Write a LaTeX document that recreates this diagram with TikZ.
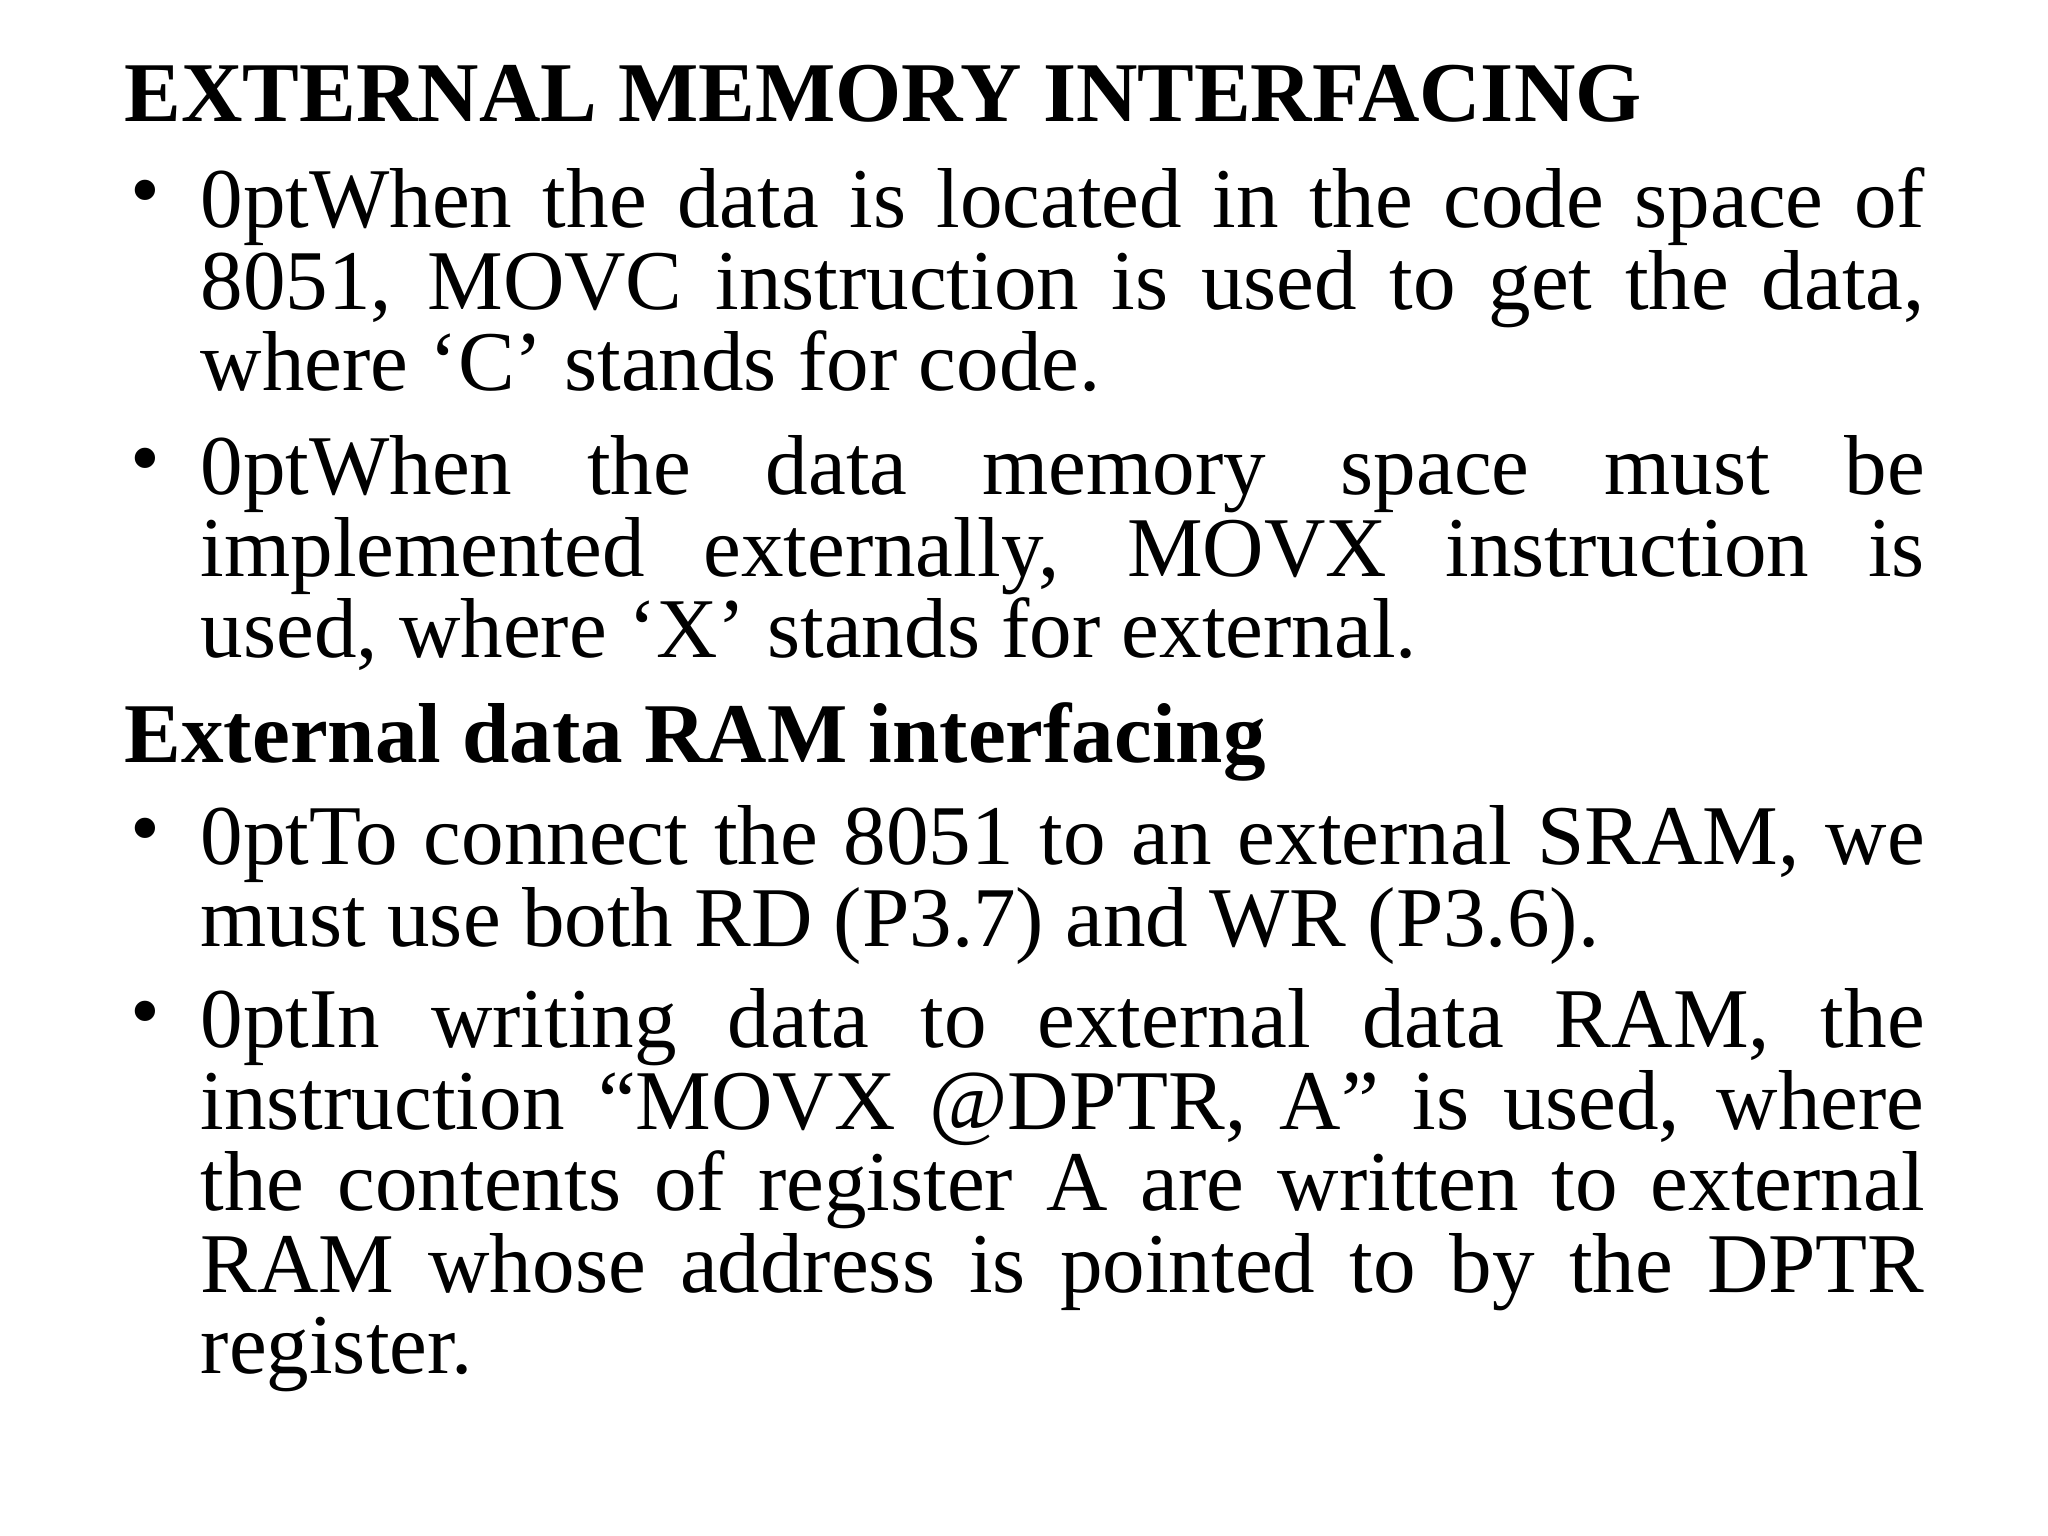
\documentclass[tikz,border=0pt]{standalone}
\usepackage{fontspec}
\setmainfont{Liberation Serif}
\tikzset{
 para/.style={anchor=north west,inner sep=0pt,text width=17.24cm,align=justify,font=\fontsize{24.2}{23.2}\selectfont\hyphenpenalty=10000\exhyphenpenalty=10000},
 head/.style={anchor=north west,inner sep=0pt,font=\fontsize{24.2}{23.2}\selectfont\bfseries},
 bul/.style={anchor=north,inner sep=0pt,font=\fontsize{24.2}{23.2}\selectfont}
}
\begin{document}
\begin{tikzpicture}
\useasboundingbox[fill=white] (0,0) rectangle (20.48,-15.36);
\node[head] (h1) at (1.24,-0.64) {EXTERNAL MEMORY INTERFACING};
\node[bul] (b1) at (1.45,-1.80) {•};
\node[para] (p1) at (2.0,-1.67) {When the data is located in the code space of\linebreak 8051, MOVC instruction is used to get the data,\linebreak where ‘C’ stands for code.\par};
\node[bul] (b2) at (1.45,-4.48) {•};
\node[para] (p2) at (2.0,-4.35) {When the data memory space must be\linebreak implemented externally, MOVX instruction is\linebreak used, where ‘X’ stands for external.\par};
\node[head] (h2) at (1.24,-7.02) {External data RAM interfacing};
\node[bul] (b3) at (1.45,-8.18) {•};
\node[para] (p3) at (2.0,-8.05) {To connect the 8051 to an external SRAM, we\linebreak must use both RD (P3.7) and WR (P3.6).\par};
\node[bul] (b4) at (1.45,-10.01) {•};
\node[para] (p4) at (2.0,-9.88) {In writing data to external data RAM, the\linebreak instruction “MOVX @DPTR, A” is used, where\linebreak the contents of register A are written to external\linebreak RAM whose address is pointed to by the DPTR\linebreak register.\par};
\end{tikzpicture}
\end{document}
